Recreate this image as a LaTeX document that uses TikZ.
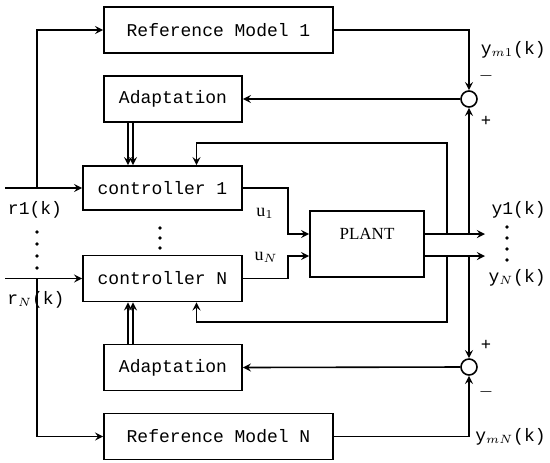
\documentclass[tikz,border=0pt]{standalone}
\usepackage{fontspec}
\setmainfont{Liberation Serif}
\setmonofont{Liberation Mono}
\usetikzlibrary{arrows,positioning,calc}

\begin{document}
\begin{tikzpicture}[
    x=0.5pt, y=-0.5pt,
    block/.style={draw, thick, minimum height=23pt, inner sep=2pt, font=\ttfamily\fontsize{9}{11}\selectfont},
    sumnode/.style={draw, thick, circle, inner sep=0pt, minimum size=8pt},
    sig/.style={->, thick, >=stealth},
    lbl/.style={inner sep=1pt, font=\ttfamily\fontsize{9}{11}\selectfont},
    sign/.style={inner sep=1pt, font=\bfseries\small}
]
\useasboundingbox (0,0) rectangle (550,462);

% blocks
\node[block, minimum width=114.5pt] (ref1) at (218.5,30) {Reference Model 1};
\node[block, minimum width=69pt] (adapt1) at (173,99) {Adaptation};
\node[block, minimum width=79.5pt, minimum height=22pt] (ctrl1) at (162.5,188) {controller 1};
\node[block, minimum width=79.5pt] (ctrlN) at (162.5,278.5) {controller N};
\node[block, minimum width=69pt] (adaptN) at (173,367.5) {Adaptation};
\node[block, minimum width=114.5pt] (refN) at (218.5,436.5) {Reference Model N};
\node[block, minimum width=57pt, minimum height=33pt, text depth=10pt,
      font=\rmfamily\fontsize{8.5}{10}\selectfont] (plant) at (367,244) {PLANT};

% comparators
\node[sumnode] (sum1) at (469,99) {};
\node[sumnode] (sumN) at (469,367) {};

% signal points
\coordinate (in1) at (5,188);
\coordinate (inN) at (5,278.5);
\coordinate (br1) at (37,188);
\coordinate (brN) at (37,278.5);
\coordinate (out1) at (485,234);
\coordinate (outN) at (485,256);
\coordinate (fb1) at (447,234);
\coordinate (fbN) at (447,256);
\coordinate (cmp1) at (469,234);
\coordinate (cmpN) at (469,256);

% inputs
\draw[sig] (in1) -- (ctrl1.west);
\draw[sig] (br1) |- (ref1.west);
\draw[sig] (inN) -- (ctrlN.west);
\draw[sig] (brN) |- (refN.west);

% control signals and plant outputs
\draw[sig] (ctrl1.east) -- ++(45,0) |- (plant.west |- out1);
\draw[sig] (ctrlN.east) -- ++(45,0) |- (plant.west |- outN);
\draw[sig] (plant.east |- out1) -- (out1);
\draw[sig] (plant.east |- outN) -- (outN);

% feedback to controllers
\draw[sig] (fb1) -- ++(0,-91) -| ([xshift=17pt]ctrl1.north);
\draw[sig] (fbN) -- ++(0,66) -| ([xshift=17pt]ctrlN.south);

% error signals
\draw[sig] (cmp1) -- (sum1.south);
\draw[sig] (ref1.east) -| (sum1.north);
\draw[sig] (sum1.west) -- (adapt1.east);
\draw[sig] (cmpN) -- (sumN.north);
\draw[sig] (refN.east) -| (sumN.south);
\draw[sig] (sumN.west) -- (adaptN.east);

% parameter updates
\foreach \s in {-22.5pt,-20pt} {
  \draw[sig] ([xshift=\s]adapt1.south) -- ([xshift=\s]adapt1.south |- ctrl1.north);
  \draw[sig] ([xshift=\s]adaptN.north) -- ([xshift=\s]adaptN.north |- ctrlN.south);
}

% dots
\foreach \d in {0,...,3} \fill (37,232+12*\d) circle (0.9pt);
\foreach \d in {0,1,2} \fill (160,228+10*\d) circle (0.9pt);
\foreach \d in {0,...,3} \fill (507,227+11*\d) circle (0.9pt);

% labels
\node[lbl] (r1lbl) at (35,210) {r1(k)};
\node[lbl] (rNlbl) at (36,300) {r$_{N}$(k)};
\node[inner sep=1pt, font=\rmfamily\fontsize{9}{11}\selectfont] (u1lbl) at (265,213) {u$_1$};
\node[inner sep=1pt, font=\rmfamily\fontsize{9}{11}\selectfont] (uNlbl) at (266,257) {u$_N$};
\node[lbl, anchor=east] (y1lbl) at (548,210) {y1(k)};
\node[lbl, anchor=east] (yNlbl) at (548,278) {y$_N$(k)};
\node[lbl, anchor=east] (ym1lbl) at (548,50) {y$_{m1}$(k)};
\node[lbl, anchor=east] (ymNlbl) at (548,437) {y$_{mN}$(k)};
\node[sign] (m1) at (486,76) {$-$};
\node[sign] (p1) at (486,121) {+};
\node[sign] (pN) at (486,345) {+};
\node[sign] (mN) at (486,392) {$-$};
\end{tikzpicture}
\end{document}
